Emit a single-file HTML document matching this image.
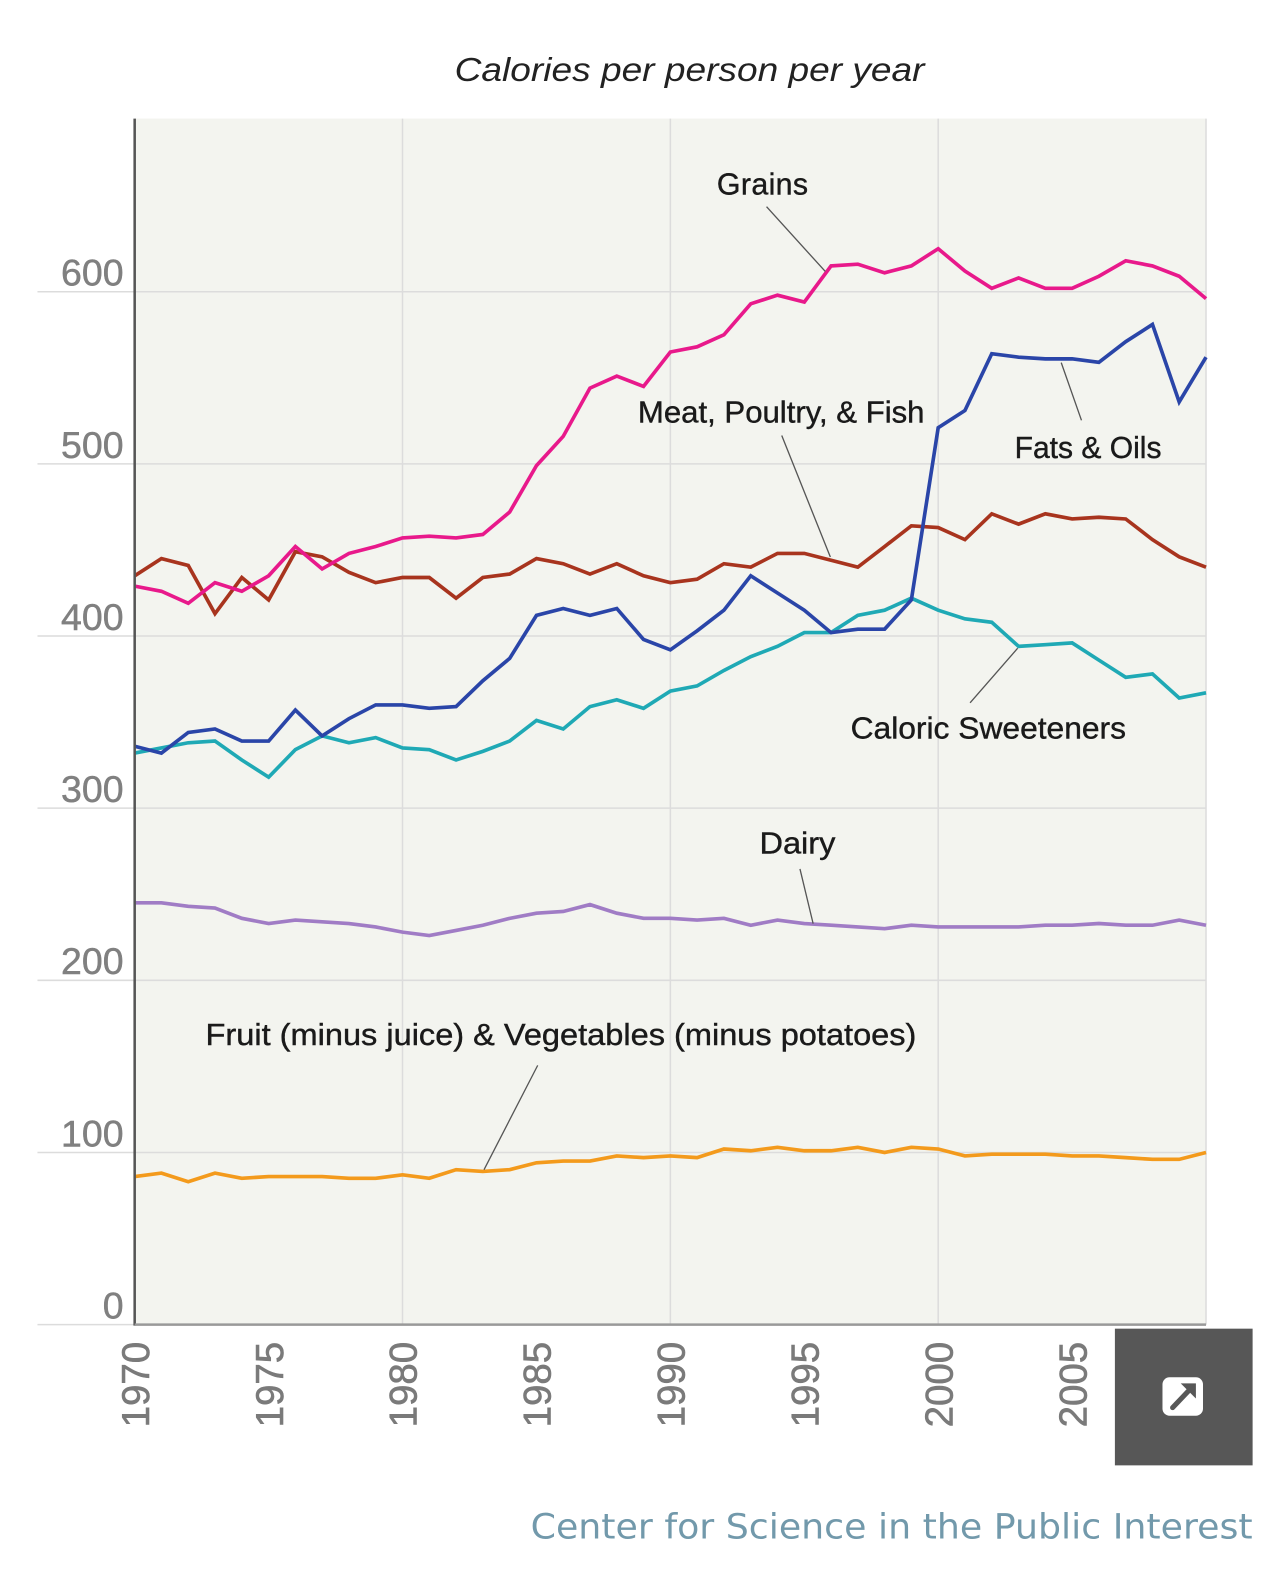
<!DOCTYPE html>
<html><head><meta charset="utf-8"><style>
html,body{margin:0;padding:0;background:#fff;}
svg{display:block;}
text{font-family:"Liberation Sans",sans-serif;}
</style></head><body>
<svg id="chart" width="1284" height="1588" viewBox="0 0 1268 1568" xmlns="http://www.w3.org/2000/svg">
<text x="681" y="80" text-anchor="middle" font-size="33" font-style="italic" fill="#222" textLength="464" lengthAdjust="spacingAndGlyphs">Calories per person per year</text>
<rect x="133" y="117" width="1058" height="1191" fill="#f3f4ef"/>
<g id="grid"></g>
<g id="series"></g>
<line x1="133" y1="117" x2="133" y2="1309" stroke="#555" stroke-width="2.5"/>
<line x1="133" y1="1308" x2="1191" y2="1308" stroke="#999" stroke-width="2.5"/>
<g id="labels" font-size="30" fill="#1a1a1a" stroke="#1a1a1a" stroke-width="0.4">
<text x="708" y="192" textLength="90">Grains</text>
<line x1="757" y1="204" x2="815" y2="268" stroke="#555" stroke-width="1.3"/>
<text x="630" y="417" textLength="283" lengthAdjust="spacingAndGlyphs">Meat, Poultry, &amp; Fish</text>
<line x1="772" y1="430" x2="820" y2="550" stroke="#555" stroke-width="1.3"/>
<text x="1002" y="452" textLength="145" lengthAdjust="spacingAndGlyphs">Fats &amp; Oils</text>
<line x1="1068" y1="415" x2="1048" y2="358" stroke="#555" stroke-width="1.3"/>
<text x="840" y="729" textLength="272" lengthAdjust="spacingAndGlyphs">Caloric Sweeteners</text>
<line x1="958" y1="694" x2="1005" y2="640" stroke="#555" stroke-width="1.3"/>
<text x="750" y="843" textLength="75" lengthAdjust="spacingAndGlyphs">Dairy</text>
<line x1="790" y1="858" x2="803" y2="912" stroke="#555" stroke-width="1.3"/>
<text x="203" y="1032" textLength="702" lengthAdjust="spacingAndGlyphs">Fruit (minus juice) &amp; Vegetables (minus potatoes)</text>
<line x1="531" y1="1052" x2="478" y2="1155" stroke="#555" stroke-width="1.3"/>
</g>
<g id="xticks"></g>
<g>
<rect x="1101" y="1312" width="136" height="135" fill="#575757"/>
<rect x="1148" y="1360" width="40" height="38" rx="7" fill="#fff"/>
<line x1="1158" y1="1390" x2="1177" y2="1370" stroke="#575757" stroke-width="5" stroke-linecap="round"/>
<polygon points="1166,1366 1181,1366 1181,1381" fill="#575757"/>
</g>
<text x="1237" y="1519" text-anchor="end" font-size="34" fill="#7299ab" style="font-family:'DejaVu Sans',sans-serif" textLength="713" lengthAdjust="spacingAndGlyphs">Center for Science in the Public Interest</text>
</svg>
<script>
const years = [];
for (let y = 1970; y <= 2010; y++) years.push(y);
const yTicks = [0,100,200,300,400,500,600];
const xTicks = [1970,1975,1980,1985,1990,1995,2000,2005,2010];
const grains = [429,426,419,431,426,435,452,439,448,452,457,458,457,459,472,499,516,544,551,545,565,568,575,593,598,594,615,616,611,615,625,612,602,608,602,602,609,618,615,609,596];
const meat = [435,445,441,413,434,421,449,446,437,431,434,434,422,434,436,445,442,436,442,435,431,433,442,440,448,448,444,440,452,464,463,456,471,465,471,468,469,468,456,446,440];
const fats = [336,332,344,346,339,339,357,342,352,360,360,358,359,374,387,412,416,412,416,398,392,403,415,435,425,415,402,404,404,421,521,531,564,562,561,561,559,571,581,536,562];
const sweeteners = [332,335,338,339,328,318,334,342,338,341,335,334,328,333,339,351,346,359,363,358,368,371,380,388,394,402,402,412,415,422,415,410,408,394,395,396,386,376,378,364,367];
const dairy = [245,245,243,242,236,233,235,234,233,231,228,226,229,232,236,239,240,244,239,236,236,235,236,232,235,233,232,231,230,232,231,231,231,231,232,232,233,232,232,235,232];
const fruitVeg = [86,88,83,88,85,86,86,86,85,85,87,85,90,89,90,94,95,95,98,97,98,97,102,101,103,101,101,103,100,103,102,98,99,99,99,98,98,97,96,96,100];

const NS = "http://www.w3.org/2000/svg";
function xs(yr){ return 133 + (yr - 1970) * (1058 / 40); }
function ys(v){ return 1308 - v * 1.7; }

const grid = document.getElementById('grid');
yTicks.forEach(t => {
  const l = document.createElementNS(NS, 'line');
  
  
  l.setAttribute('x1', 37); l.setAttribute('x2', t > 0 ? 1191 : 133);
  l.setAttribute('y1', ys(t)); l.setAttribute('y2', ys(t));
  l.setAttribute('stroke', '#dcdcdc'); l.setAttribute('stroke-width', '1.5');
  grid.appendChild(l);
  const tx = document.createElementNS(NS, 'text');
  
  
  tx.setAttribute('x', 122); tx.setAttribute('y', ys(t) - 6);
  tx.setAttribute('text-anchor', 'end'); tx.setAttribute('font-size', '37');
  tx.setAttribute('fill', '#808080');
  tx.setAttribute('stroke', '#808080'); tx.setAttribute('stroke-width', '0.5');
  tx.textContent = t;
  grid.appendChild(tx);
});
[1980,1990,2000,2010].forEach(yr => {
  const l = document.createElementNS(NS, 'line');
  
  
  l.setAttribute('x1', xs(yr)); l.setAttribute('x2', xs(yr));
  l.setAttribute('y1', 117); l.setAttribute('y2', 1308);
  l.setAttribute('stroke', '#dcdcdc'); l.setAttribute('stroke-width', '1.5');
  grid.appendChild(l);
});

const xt = document.getElementById('xticks');
xTicks.forEach(yr => {
  const tx = document.createElementNS(NS, 'text');
  
  
  tx.setAttribute('transform', 'translate(' + (xs(yr) + 14) + ',1325) rotate(-90)');
  tx.setAttribute('text-anchor', 'end'); tx.setAttribute('font-size', '38');
  tx.setAttribute('fill', '#7a7a7a');
  tx.setAttribute('stroke', '#7a7a7a'); tx.setAttribute('stroke-width', '0.6');
  tx.textContent = yr;
  xt.appendChild(tx);
});

const seriesG = document.getElementById('series');
function drawLine(vals, color, name){
  const p = document.createElementNS(NS, 'polyline');
  
  
  p.setAttribute('points', vals.map((v,i) => xs(years[i]).toFixed(1) + ',' + ys(v).toFixed(1)).join(' '));
  p.setAttribute('fill', 'none'); p.setAttribute('stroke', color);
  p.setAttribute('stroke-width', '3.6'); p.setAttribute('stroke-linejoin', 'miter');
  seriesG.appendChild(p);
}
drawLine(fruitVeg, '#f39a1c', 'fruit-veg-line');
drawLine(dairy, '#a07cc5', 'dairy-line');
drawLine(sweeteners, '#1fa9b5', 'sweeteners-line');
drawLine(meat, '#a8341e', 'meat-line');
drawLine(fats, '#2a45a8', 'fats-line');
drawLine(grains, '#e8198b', 'grains-line');
</script>
</body></html>
